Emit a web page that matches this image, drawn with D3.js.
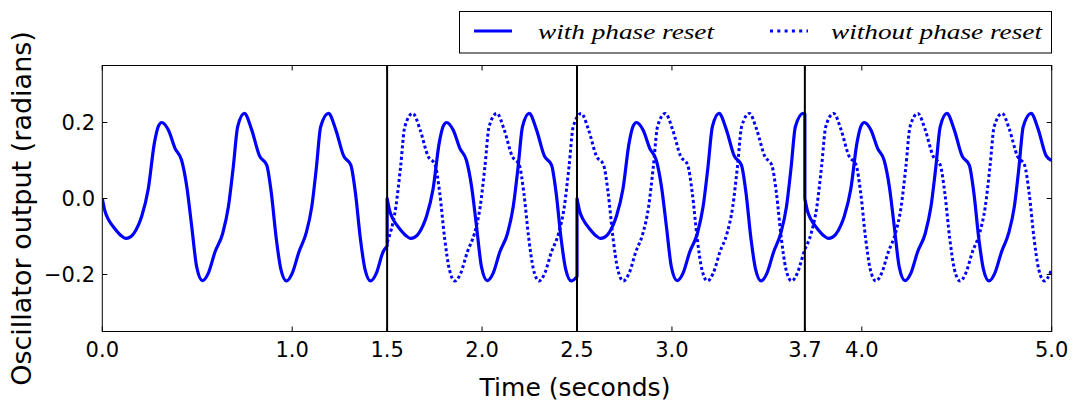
<!DOCTYPE html>
<html><head><meta charset="utf-8">
<script src="https://cdn.jsdelivr.net/npm/d3@7"></script>
<style>body{margin:0;background:#fff}svg{display:block}</style>
</head><body><svg id="c" width="1073" height="403"></svg>
<script>
const xTicks = [0, 1, 1.5, 2, 2.5, 3, 3.7, 4, 5];
const xTickLabels = ["0.0", "1.0", "1.5", "2.0", "2.5", "3.0", "3.7", "4.0", "5.0"];
const yTicks = [-0.2, 0, 0.2];
const yTickLabels = ["\u22120.2", "0.0", "0.2"];
const resetTimes = [1.5, 2.5, 3.7];
const seriesNames = ["with phase reset", "without phase reset"];

// oscillator output with phase reset (time in s, value in rad)
const solidT = [
  0,.015,.032,.067,.100,.123,.145,.163,.190,.208,.242,.274,.295,.313,.348,.383,.418,.445,.471,.497,.527,.558,.594,.634,.664,.690,.713,.748,
  .786,.828,.866,.890,.916,.940,.970,1.000,1.036,1.073,1.103,1.128,1.150,1.191,
  1.229,1.271,1.309,1.333,1.359,1.383,1.413,1.443,1.479,1.500,
  1.500,1.515,1.532,1.567,1.600,1.623,1.645,1.663,1.690,1.708,1.742,1.774,1.795,1.813,1.848,1.883,1.918,1.945,1.971,1.997,2.027,2.058,2.094,2.134,2.164,2.190,2.213,2.248,
  2.286,2.328,2.366,2.390,2.416,2.440,2.470,2.500,
  2.500,2.515,2.532,2.567,2.600,2.623,2.645,2.663,2.690,2.708,2.742,2.774,2.795,2.813,2.848,2.883,2.918,2.945,2.971,2.997,3.027,3.058,3.094,3.134,3.164,3.190,3.213,3.248,
  3.286,3.328,3.366,3.390,3.416,3.440,3.470,3.500,3.536,3.573,3.603,3.628,3.650,3.691,3.700,
  3.700,3.715,3.732,3.767,3.800,3.823,3.845,3.863,3.890,3.908,3.942,3.974,3.995,4.013,4.048,4.083,4.118,4.145,4.171,4.197,4.227,4.258,4.294,4.334,4.364,4.390,4.413,4.448,
  4.486,4.528,4.566,4.590,4.616,4.640,4.670,4.700,4.736,4.773,4.803,4.828,4.850,4.891,
  4.929,4.971,5.000
];
const solidV = [
  0,-.035,-.055,-.080,-.098,-.105,-.102,-.094,-.070,-.046,.025,.145,.190,.200,.180,.132,.100,.031,-.074,-.180,-.216,-.197,-.140,-.092,-.022,.084,.189,.224,
  .182,.112,.088,.015,-.105,-.185,-.217,-.197,-.140,-.092,-.022,.084,.189,.224,
  .182,.112,.088,.015,-.105,-.185,-.217,-.197,-.140,-.125,
  0,-.035,-.055,-.080,-.098,-.105,-.102,-.094,-.070,-.046,.025,.145,.190,.200,.180,.132,.100,.031,-.074,-.180,-.216,-.197,-.140,-.092,-.022,.084,.189,.224,
  .182,.112,.088,.015,-.105,-.185,-.217,-.205,
  0,-.035,-.055,-.080,-.098,-.105,-.102,-.094,-.070,-.046,.025,.145,.190,.200,.180,.132,.100,.031,-.074,-.180,-.216,-.197,-.140,-.092,-.022,.084,.189,.224,
  .182,.112,.088,.015,-.105,-.185,-.217,-.197,-.140,-.092,-.022,.084,.189,.224,.222,
  0,-.035,-.055,-.080,-.098,-.105,-.102,-.094,-.070,-.046,.025,.145,.190,.200,.180,.132,.100,.031,-.074,-.180,-.216,-.197,-.140,-.092,-.022,.084,.189,.224,
  .182,.112,.088,.015,-.105,-.185,-.217,-.197,-.140,-.092,-.022,.084,.189,.224,
  .182,.112,.100
];

// oscillator output without phase reset
const dottedT = [
  1.500,1.516,1.546,1.571,1.593,1.635,
  1.673,1.715,1.753,1.777,1.803,1.827,1.857,1.887,1.923,1.960,1.990,2.015,2.037,2.078,
  2.116,2.158,2.196,2.220,2.246,2.270,2.300,2.330,2.366,2.403,2.433,2.458,2.480,2.522,
  2.560,2.602,2.640,2.664,2.690,2.714,2.744,2.774,2.810,2.847,2.877,2.902,2.924,2.965,
  3.003,3.045,3.083,3.107,3.133,3.157,3.187,3.217,3.253,3.290,3.320,3.345,3.367,3.408,
  3.446,3.488,3.526,3.550,3.576,3.600,3.630,3.660,3.696,3.733,3.763,3.788,3.810,3.852,
  3.890,3.932,3.970,3.994,4.020,4.044,4.074,4.104,4.140,4.177,4.207,4.232,4.254,4.295,
  4.333,4.375,4.413,4.437,4.463,4.487,4.517,4.547,4.583,4.620,4.650,4.675,4.697,4.739,
  4.777,4.819,4.857,4.881,4.907,4.931,4.961,4.991,5.000
];
const dottedV = [
  -.115,-.092,-.022,.084,.189,.224,
  .182,.112,.088,.015,-.105,-.185,-.217,-.197,-.140,-.092,-.022,.084,.189,.224,
  .182,.112,.088,.015,-.105,-.185,-.217,-.197,-.140,-.092,-.022,.084,.189,.224,
  .182,.112,.088,.015,-.105,-.185,-.217,-.197,-.140,-.092,-.022,.084,.189,.224,
  .182,.112,.088,.015,-.105,-.185,-.217,-.197,-.140,-.092,-.022,.084,.189,.224,
  .182,.112,.088,.015,-.105,-.185,-.217,-.197,-.140,-.092,-.022,.084,.189,.224,
  .182,.112,.088,.015,-.105,-.185,-.217,-.197,-.140,-.092,-.022,.084,.189,.224,
  .182,.112,.088,.015,-.105,-.185,-.217,-.197,-.140,-.092,-.022,.084,.189,.224,
  .182,.112,.088,.015,-.105,-.185,-.217,-.197,-.186
];

const svg = d3.select("#c");
const L = 102.3, R = 1051.7, T = 65.5, B = 331.5;
const x = d3.scaleLinear().domain([0, 5]).range([L, R]);
const y = d3.scaleLinear().domain([-0.35, 0.35]).range([B, T]);
const blue = "#0000ff";
const font = "'DejaVu Sans', sans-serif";

svg.append("defs").append("clipPath").attr("id", "clip")
  .append("rect").attr("x", L).attr("y", T).attr("width", R - L).attr("height", B - T);

const line = d3.line().x(d => x(d[0])).y(d => y(d[1])).curve(d3.curveMonotoneX);

// split solid into runs at phase resets
const runs = [];
let cur = [];
solidT.forEach((t, i) => {
  if (i > 0 && t === solidT[i - 1]) { runs.push(cur); cur = []; }
  cur.push([t, solidV[i]]);
});
runs.push(cur);
const solidPath = runs.map((r, i) => { const p = line(r); return i === 0 ? p : "L" + p.slice(1); }).join("");

const dotted = dottedT.map((t, i) => [t, dottedV[i]]);

const plot = svg.append("g").attr("clip-path", "url(#clip)");
plot.append("path").attr("d", line(dotted)).attr("fill", "none")
  .attr("stroke", blue).attr("stroke-width", 3).attr("stroke-dasharray", "3,2.6");
plot.append("path").attr("d", solidPath).attr("fill", "none")
  .attr("stroke", blue).attr("stroke-width", 3.2).attr("stroke-linejoin", "round");

// reset lines
svg.selectAll(".reset").data(resetTimes).enter().append("line")
  .attr("x1", d => x(d)).attr("x2", d => x(d)).attr("y1", T).attr("y2", B)
  .attr("stroke", "#000").attr("stroke-width", 2);

// frame
svg.append("rect").attr("x", L).attr("y", T).attr("width", R - L).attr("height", B - T)
  .attr("fill", "none").attr("stroke", "#000").attr("stroke-width", 1);

// ticks (inward, all sides)
const tl = 5;
const xt = svg.append("g");
xTicks.forEach(v => {
  xt.append("line").attr("x1", x(v)).attr("x2", x(v)).attr("y1", B).attr("y2", B - tl).attr("stroke", "#000");
  xt.append("line").attr("x1", x(v)).attr("x2", x(v)).attr("y1", T).attr("y2", T + tl).attr("stroke", "#000");
});
yTicks.forEach(v => {
  xt.append("line").attr("x1", L).attr("x2", L + tl).attr("y1", y(v)).attr("y2", y(v)).attr("stroke", "#000");
  xt.append("line").attr("x1", R).attr("x2", R - tl).attr("y1", y(v)).attr("y2", y(v)).attr("stroke", "#000");
});

svg.append("g").selectAll("text").data(xTicks).enter().append("text")
  .attr("x", d => x(d)).attr("y", 357).attr("text-anchor", "middle")
  .attr("font-family", font).attr("font-size", 21).text((d, i) => xTickLabels[i]);
svg.append("g").selectAll("text").data(yTicks).enter().append("text")
  .attr("x", 95).attr("y", d => y(d) + 7.5).attr("text-anchor", "end")
  .attr("font-family", font).attr("font-size", 21).text((d, i) => yTickLabels[i]);

svg.append("text").attr("x", 575).attr("y", 396).attr("text-anchor", "middle")
  .attr("font-family", font).attr("font-size", 25).text("Time (seconds)");
svg.append("text").attr("transform", "translate(31,208.5) rotate(-90)").attr("text-anchor", "middle")
  .attr("font-family", font).attr("font-size", 27).text("Oscillator output (radians)");

// legend
const lg = svg.append("g");
lg.append("rect").attr("x", 459.5).attr("y", 11.5).attr("width", 592).attr("height", 41.5)
  .attr("fill", "#fff").attr("stroke", "#000").attr("stroke-width", 1);
lg.append("line").attr("x1", 474).attr("x2", 512).attr("y1", 31).attr("y2", 31)
  .attr("stroke", blue).attr("stroke-width", 3);
lg.append("line").attr("x1", 770).attr("x2", 808).attr("y1", 31).attr("y2", 31)
  .attr("stroke", blue).attr("stroke-width", 3).attr("stroke-dasharray", "3,4.3");
const lfont = "'Liberation Serif', 'Times New Roman', serif";
lg.append("text").attr("x", 538).attr("y", 39).attr("font-family", lfont).attr("font-style", "italic")
  .attr("font-size", 22).attr("textLength", 176).attr("lengthAdjust", "spacingAndGlyphs").text(seriesNames[0]);
lg.append("text").attr("x", 831).attr("y", 39).attr("font-family", lfont).attr("font-style", "italic")
  .attr("font-size", 22).attr("textLength", 211).attr("lengthAdjust", "spacingAndGlyphs").text(seriesNames[1]);
</script></body></html>
